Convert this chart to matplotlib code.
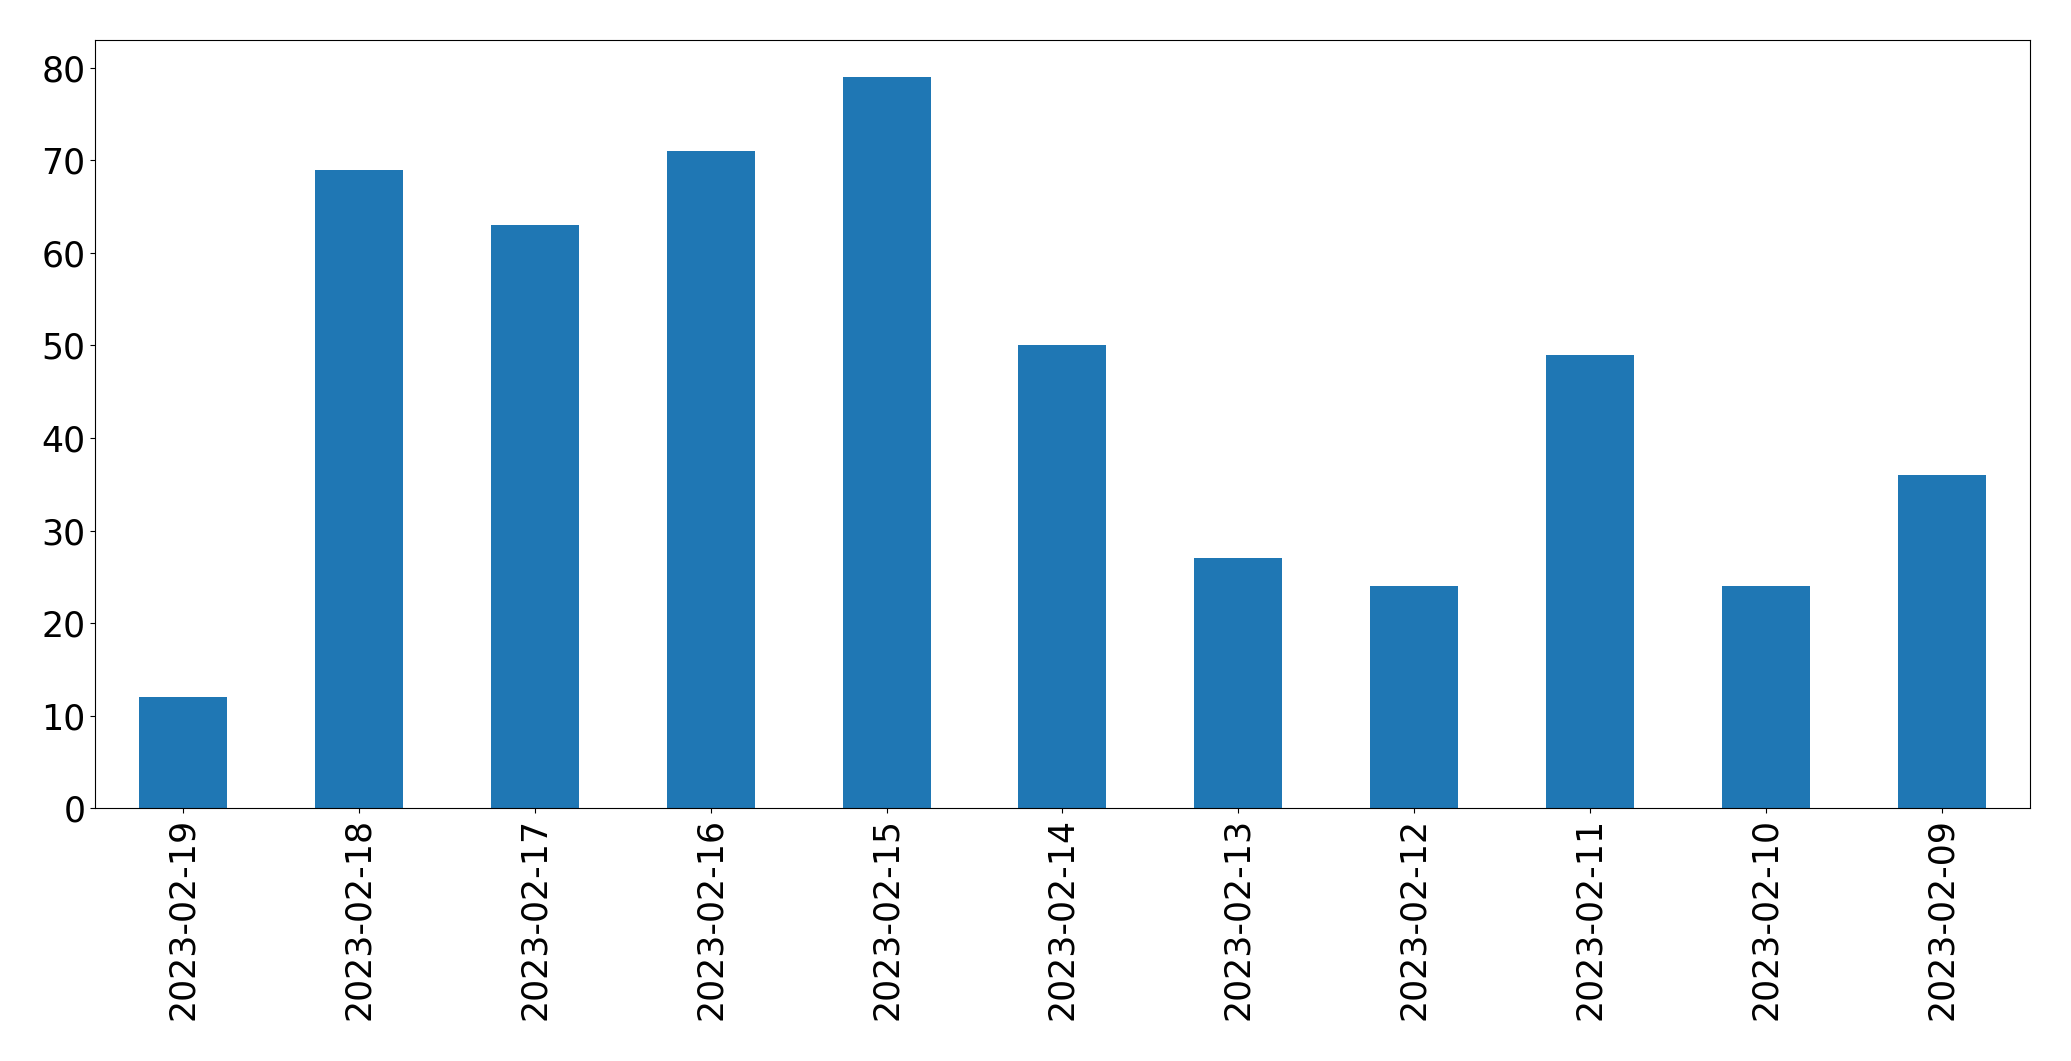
import matplotlib
matplotlib.use("Agg")
import matplotlib.pyplot as plt
import numpy as np

dates = ["2023-02-19", "2023-02-18", "2023-02-17", "2023-02-16", "2023-02-15",
         "2023-02-14", "2023-02-13", "2023-02-12", "2023-02-11", "2023-02-10",
         "2023-02-09"]
counts = [12, 69, 63, 71, 79, 50, 27, 24, 49, 24, 36]

fig, ax = plt.subplots(figsize=(20.71, 10.61), dpi=100)
x = np.arange(len(dates))
ax.bar(x, counts, width=0.5, color="#1f77b4")
ax.set_xticks(x)
ax.set_xticklabels(dates, rotation=90)
ax.set_xlim(-0.5, len(dates) - 0.5)
ax.set_ylim(0, max(counts) * 1.05)
ax.tick_params(labelsize=25)
fig.subplots_adjust(left=0.046, right=0.980, top=0.962, bottom=0.238)
fig.savefig("out.png")
